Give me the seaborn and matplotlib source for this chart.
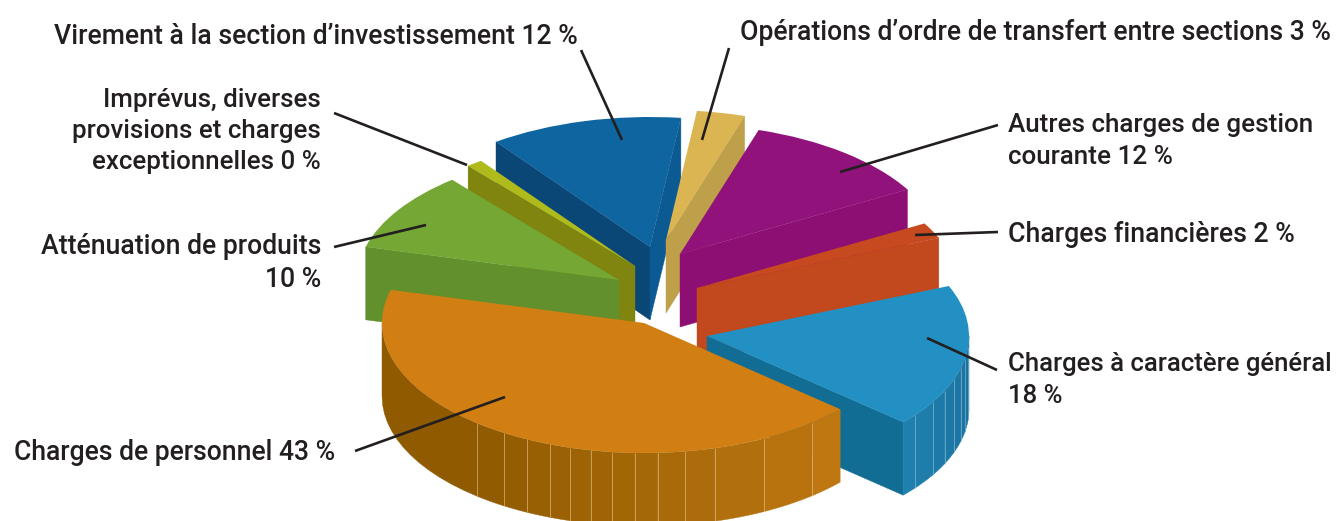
import numpy as np
import matplotlib
matplotlib.use("Agg")
import matplotlib.pyplot as plt
import matplotlib.colors as mc
import seaborn as sns

# ---- data ----
categories = ["Virement à la section d’investissement",
              "Opérations d’ordre de transfert entre sections",
              "Autres charges de gestion courante",
              "Charges financières",
              "Charges à caractère général",
              "Charges de personnel",
              "Atténuation de produits",
              "Imprévus, diverses provisions et charges exceptionnelles"]
shares = [12, 3, 12, 2, 18, 43, 10, 1]   # last: printed 0 %, drawn as a sliver

label_texts = ["Virement à la section d’investissement 12 %",
               "Opérations d’ordre de transfert entre sections 3 %",
               "Autres charges de gestion\ncourante 12 %",
               "Charges financières 2 %",
               "Charges à caractère général\n18 %",
               "Charges de personnel 43 %",
               "Atténuation de produits\n10 %",
               "Imprévus, diverses\nprovisions et charges\nexceptionnelles 0 %"]

# ---- style ----
top_colors = ["#0f659f", "#dab551", "#90127a", "#c7491f", "#2290c2", "#d17e13", "#75a735", "#aebb1a"]
start_wall = ["#0a4777", "#bfa04a", "#8e0f74", "#c2481e", "#116d94", "#8f5a00", "#62902c", "#7f850f"]
end_wall   = ["#0b5a92", "#bfa04a", "#8e0f74", "#c2481e", "#116d94", "#c07812", "#62902c", "#7f850f"]
rim_from   = ["#0a4777", "#bfa04a", "#8e0f74", "#c2481e", "#1f80ae", "#c07812", "#62902c", "#7f850f"]
rim_to     = ["#0a4777", "#bfa04a", "#8e0f74", "#c2481e", "#1a6f9c", "#8f5a00", "#62902c", "#7f850f"]
apex_px = [(650, 247), (666, 240), (680, 254), (697, 288), (707, 336), (644, 323), (619, 280), (635, 266)]
paint_order = [0, 1, 2, 3, 4, 7, 6, 5]
facet_breaks = {4: [-37.4, -30.3, -24.8, -19.4, -14.3, -10, -5],
                5: [-50, -62.7, -74.3, -81, -87, -92, -97, -101.7, -106.4, -111, -116.5, -122.3, -129.6]}
RX = 262.0
RY = 130.0
DEPTH = 73.0
W, H = 1336, 521
SQ = RY / RX

sns.set_theme(style="white")
plt.rcParams["font.family"] = ["Roboto", "DejaVu Sans"]

fig = plt.figure(figsize=(W / 100, H / 100), dpi=100)
ax = fig.add_axes([0, 0, 1, 1])


def Y(py):
    return (H - py) / SQ


wedges, _ = ax.pie(shares, colors=top_colors, startangle=126.0, counterclock=False)
ax.set_box_aspect(None)
ax.set_aspect("auto")
ax.set_xlim(0, W)
ax.set_ylim(0, H / SQ)
ax.axis("off")

depth = DEPTH / SQ


def rim_pt(c, deg):
    t = np.radians(deg)
    return c[0] + RX * np.cos(t), c[1] + RX * np.sin(t)


for rank, i in enumerate(paint_order):
    w = wedges[i]
    cx, cy = apex_px[i][0], Y(apex_px[i][1])
    lo, hi = w.theta1, w.theta2      # clockwise: starts at hi, ends at lo
    z = 10 + rank * 10
    # walls facing the viewer
    for ang, normal, col in [(hi, hi + 90, start_wall[i]), (lo, lo - 90, end_wall[i])]:
        if np.sin(np.radians(normal)) < 0:
            px, py = rim_pt((cx, cy), ang)
            ax.fill([cx, px, px, cx], [cy, py, py - depth, cy - depth],
                    color=col, lw=0.3, zorder=z)
    # front part of outer rim, faceted
    k_lo = np.ceil(lo / 180)
    pts = [hi] + [b for b in facet_breaks.get(i, [])] + [lo]
    pts += [180 * k for k in range(int(k_lo), int(np.floor(hi / 180)) + 1)]
    pts = sorted(set(pts), reverse=True)
    c0, c1 = np.array(mc.to_rgb(rim_from[i])), np.array(mc.to_rgb(rim_to[i]))
    brks = facet_breaks.get(i, [])
    for a, b in zip(pts[:-1], pts[1:]):
        mid = (a + b) / 2
        if np.sin(np.radians(mid)) >= 0:
            continue
        if brks:
            f = (brks[0] + 8 - mid) / (brks[0] + 8 - brks[-1]) if i == 5 else (mid - lo) / (0 - lo)
            col = c0 + (c1 - c0) * np.clip(f, 0, 1)
        else:
            col = c0
        th = np.linspace(a, b, 14)
        xs, ys = rim_pt((cx, cy), th)
        ax.fill(np.r_[xs, xs[::-1]], np.r_[ys, ys[::-1] - depth], color=col, lw=0.3, zorder=z + 1)
    for b in brks:
        px, py = rim_pt((cx, cy), b)
        ax.plot([px, px], [py, py - depth], color="#e8c48a" if i == 5 else "#8fc3dc",
                lw=0.6, alpha=0.7, zorder=z + 2, solid_capstyle="butt")
    # top face
    w.set_center((cx, cy))
    w.set_radius(RX)
    w.set_zorder(z + 3)
    w.set_linewidth(0)

# ---- leader lines ----
leader_x = [(581, 622), (729, 702), (998, 840), (998, 915), (997, 927), (355, 505), (334, 426), (334, 467)]
leader_y = [(50, 140), (48, 140), (125, 172), (232, 235), (370, 338), (451, 397), (247, 225), (113, 165)]
for xs, ys in zip(leader_x, leader_y):
    ax.plot(xs, [Y(v) for v in ys], color="#231f20", lw=1.9, zorder=200, solid_capstyle="butt")

# ---- labels ----
label_pos = [(578, 37, "right"), (1331, 32, "right"), (1008, 141, "left"), (1008, 235, "left"),
             (1008, 380, "left"), (335, 453, "right"), (321, 263, "right"), (321, 131, "right")]
label_size = [19.2, 19.2, 18.7, 19.2, 18.5, 19.1, 19.2, 18.6]
label_gap = [1.33, 1.33, 1.37, 1.33, 1.38, 1.33, 1.33, 1.37]
for txt, (x, y, ha), fs, gap in zip(label_texts, label_pos, label_size, label_gap):
    ax.text(x, Y(y), txt, ha=ha, va="center", multialignment=ha, fontsize=fs,
            fontweight="medium", color="#231f20", linespacing=gap, zorder=210)

sns.despine(ax=ax, left=True, bottom=True)
fig.savefig("out.png", dpi=100)
